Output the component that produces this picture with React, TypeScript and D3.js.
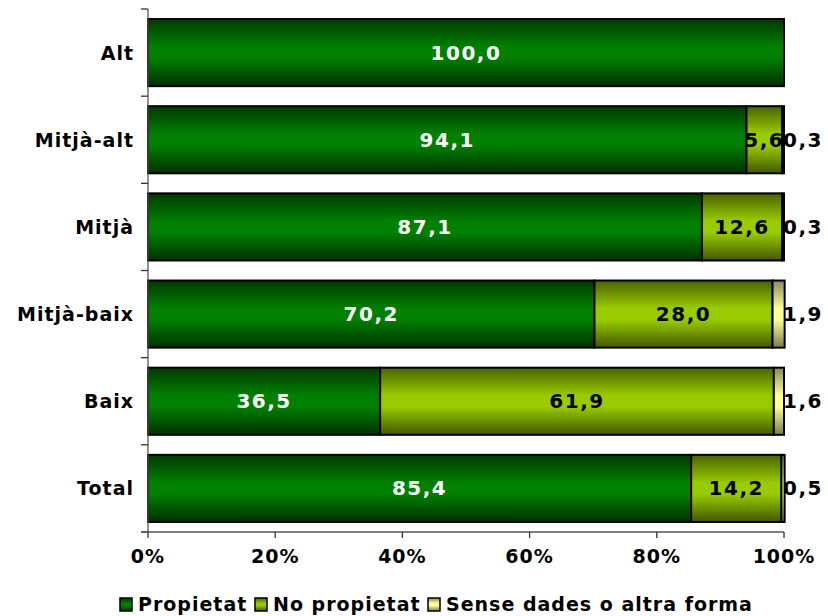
import React from "react";
import * as d3 from "d3";

const categories = ["Alt", "Mitjà-alt", "Mitjà", "Mitjà-baix", "Baix", "Total"];
const propietat = [100.0, 94.1, 87.1, 70.2, 36.5, 85.4];
const noPropietat = [0, 5.6, 12.6, 28.0, 61.9, 14.2];
const senseDades = [0, 0.3, 0.3, 1.9, 1.6, 0.5];
const seriesNames = ["Propietat", "No propietat", "Sense dades o altra forma"];
const xTicks = [0, 20, 40, 60, 80, 100];

const W = 828;
const H = 616;
const left = 148;
const right = 784;
const top = 9;
const bottom = 532;
const FONT = "'DejaVu Sans', Verdana, sans-serif";

const gradients = [
  { id: "g0", edge: "#003a00", mid: "#008000", edge2: "#003000" },
  { id: "g1", edge: "#4a6200", mid: "#99cc00", edge2: "#425800" },
  { id: "g2", edge: "#8a8a5a", mid: "#ffff99", edge2: "#7a7a50" },
];
const labelColors = ["#ffffff", "#000000", "#000000"];

const fmt = (v: number) => v.toFixed(1).replace(".", ",");

export default function App() {
  const x = d3.scaleLinear().domain([0, 100]).range([left, right]);
  const y = d3.scaleBand().domain(categories).range([top, bottom]).paddingInner(0.23).paddingOuter(0.115);
  const band = d3.scaleBand().domain(categories).range([top, bottom]);
  const data = [propietat, noPropietat, senseDades];
  const stack = categories.map((c, i) => {
    let acc = 0;
    return data.map((s, k) => {
      const x0 = acc;
      acc += s[i];
      return { k, x0, x1: acc, v: s[i] };
    });
  });
  const bw = y.bandwidth();
  const legendStarts = [120, 255, 428];

  return (
    <svg width={W} height={H} style={{ position: "absolute", left: 0, top: 0, background: "#fff" }}>
      <defs>
        {gradients.map((g) => (
          <linearGradient key={g.id} id={g.id} x1="0" y1="0" x2="0" y2="1">
            <stop offset="0" stopColor={g.edge} />
            <stop offset="0.42" stopColor={g.mid} />
            <stop offset="0.58" stopColor={g.mid} />
            <stop offset="1" stopColor={g.edge2} />
          </linearGradient>
        ))}
      </defs>
      {/* bars */}
      {categories.map((c, i) =>
        stack[i].map((s) =>
          s.v > 0 ? (
            <rect
              key={c + s.k}
              x={x(s.x0)}
              y={y(c)!}
              width={x(Math.min(s.x1, 100.1)) - x(s.x0)}
              height={bw}
              fill={`url(#g${s.k})`}
              stroke="#000"
              strokeWidth={2}
            />
          ) : null
        )
      )}
      {/* value labels */}
      {categories.map((c, i) =>
        stack[i].map((s) => {
          if (s.v <= 0) return null;
          const cx = s.k === 2 ? x(100) + 19 : (x(s.x0) + x(s.x1)) / 2;
          return (
            <text
              key={"t" + c + s.k}
              x={cx}
              y={y(c)! + bw / 2}
              textAnchor="middle"
              dominantBaseline="central"
              fontFamily={FONT}
              fontWeight="bold"
              fontSize={20}
              letterSpacing={1.5}
              fill={labelColors[s.k]}
            >
              {fmt(s.v)}
            </text>
          );
        })
      )}
      {/* y axis */}
      <line x1={left} x2={left} y1={top} y2={bottom} stroke="#555" strokeWidth={1.3} />
      {categories.concat(["_end"]).map((c, i) => {
        const yy = i < categories.length ? band(c)! : bottom;
        return <line key={"yt" + i} x1={left - 7} x2={left} y1={yy} y2={yy} stroke="#333" strokeWidth={1.3} />;
      })}
      {categories.map((c) => (
        <text
          key={"yl" + c}
          x={left - 14}
          y={band(c)! + band.bandwidth() / 2}
          textAnchor="end"
          dominantBaseline="central"
          fontFamily={FONT}
          fontWeight="bold"
          fontSize={19}
          letterSpacing={1}
          fill="#000"
        >
          {c}
        </text>
      ))}
      {/* x axis */}
      <line x1={left - 7} x2={right} y1={bottom} y2={bottom} stroke="#555" strokeWidth={1.3} />
      {xTicks.map((t) => (
        <g key={"xt" + t}>
          <line x1={x(t)} x2={x(t)} y1={bottom} y2={bottom + 6} stroke="#333" strokeWidth={1.3} />
          <text
            x={x(t)}
            y={bottom + 24}
            textAnchor="middle"
            dominantBaseline="central"
            fontFamily={FONT}
            fontWeight="bold"
            fontSize={19}
            letterSpacing={1}
            fill="#000"
          >
            {t}%
          </text>
        </g>
      ))}
      {/* legend */}
      <g>
        {seriesNames.map((n, k) => (
          <g key={"lg" + k}>
            <rect
              x={legendStarts[k]}
              y={598}
              width={12}
              height={13}
              fill={`url(#g${k})`}
              stroke="#000"
              strokeWidth={1.5}
            />
            <text
              x={legendStarts[k] + 18}
              y={604}
              dominantBaseline="central"
              fontFamily={FONT}
              fontWeight="bold"
              fontSize={19}
              letterSpacing={1}
              fill="#000"
            >
              {n}
            </text>
          </g>
        ))}
      </g>
    </svg>
  );
}
